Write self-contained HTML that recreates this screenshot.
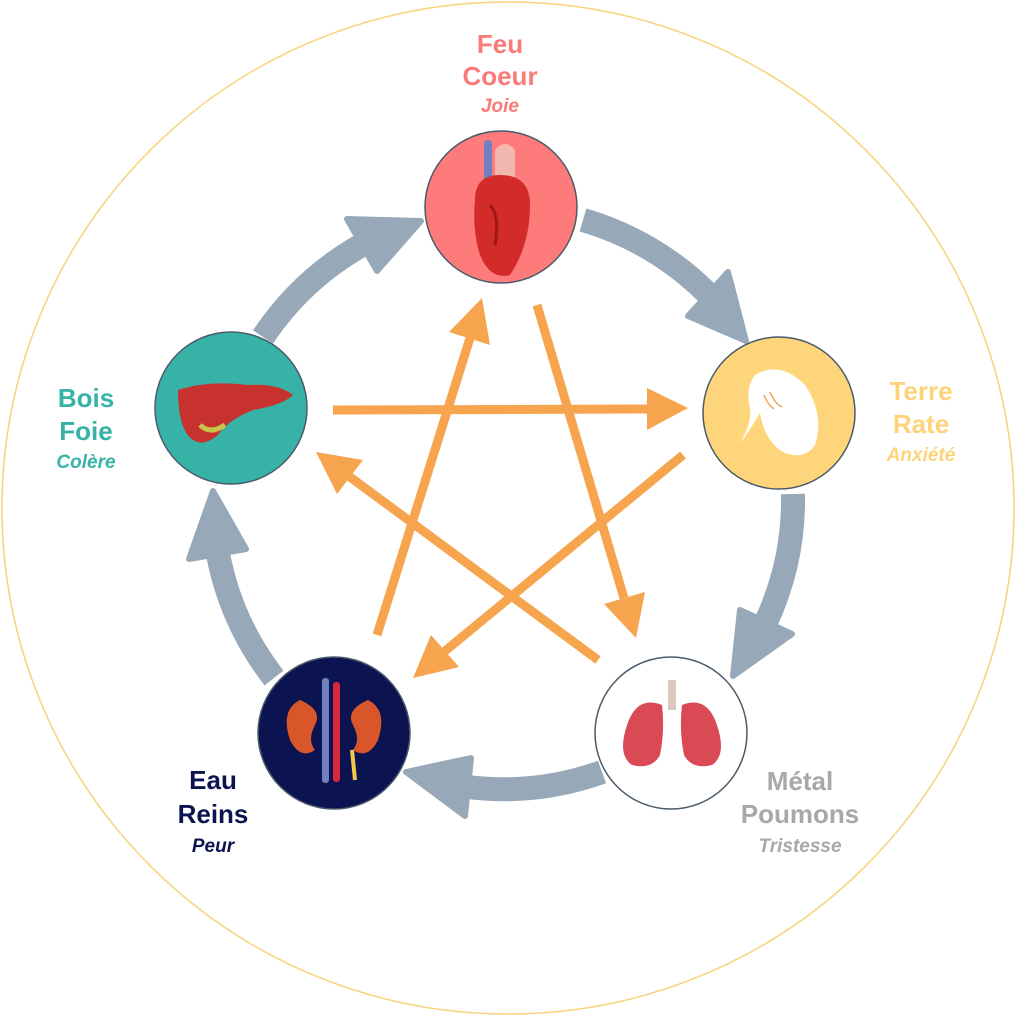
<!DOCTYPE html>
<html><head><meta charset="utf-8"><style>
html,body{margin:0;padding:0;background:#fff;}
svg{display:block;}
text{font-family:"Liberation Sans",sans-serif;font-weight:bold;text-anchor:middle;}
</style></head><body>
<svg width="1016" height="1016" viewBox="0 0 1016 1016" xmlns="http://www.w3.org/2000/svg">
<circle cx="508" cy="508" r="506" fill="#fff" stroke="#f6d37a" stroke-width="1.5"/>

<!-- gray arcs -->
<g fill="none" stroke="#97a8b8" stroke-width="24">
<path d="M583,220 A290,290 0 0 1 708,294"/>
<path d="M793,494 A290,290 0 0 1 766,622"/>
<path d="M602,772 A290,290 0 0 1 468,787"/>
<path d="M274,678 A290,290 0 0 1 218,554"/>
<path d="M263,337 A290,290 0 0 1 362,245"/>
</g>
<g fill="#97a8b8" stroke="#97a8b8" stroke-width="6" stroke-linejoin="round">
<polygon points="728,272 688,316 746,341"/>
<polygon points="792,634 740,610 733,676"/>
<polygon points="465,816 471,758 406,772"/>
<polygon points="189,559 246,549 213,491"/>
<polygon points="347,219 377,271 421,221"/>
</g>

<!-- orange arrows -->
<g stroke="#f7a44e" stroke-width="9" fill="none">
<line x1="333" y1="410" x2="650" y2="409"/>
<line x1="377" y1="635" x2="470" y2="338"/>
<line x1="537" y1="305" x2="624" y2="598"/>
<line x1="683" y1="455" x2="445" y2="651"/>
<line x1="598" y1="660" x2="350" y2="477"/>
</g>
<g fill="#f7a44e">
<polygon points="688,408 647,388 647,430"/>
<polygon points="482,298 490,345 449,332"/>
<polygon points="636,638 645,592 604,604"/>
<polygon points="413,678 459,667 431,635"/>
<polygon points="316,452 337,494 363,460"/>
</g>

<!-- nodes -->
<g stroke="#4a5a6a" stroke-width="1.5">
<circle cx="501" cy="207" r="76" fill="#fd7b7b"/>
<circle cx="779" cy="413" r="76" fill="#fed57a"/>
<circle cx="671" cy="733" r="76" fill="#fff"/>
<circle cx="334" cy="733" r="76" fill="#0b1450"/>
<circle cx="231" cy="408" r="76" fill="#36b3a6"/>
</g>

<!-- heart -->
<rect x="484" y="140" width="8" height="45" rx="4" fill="#6f7fc0"/>
<path d="M495,150 q10,-12 20,0 l0,30 l-20,0z" fill="#f2b8b0"/>
<path d="M475,200 q0,-25 25,-25 q30,0 30,30 q0,40 -20,70 q-20,5 -30,-20 q-8,-25 -5,-55z" fill="#d32a2a"/>
<path d="M490,205 q10,10 5,40" stroke="#a01818" stroke-width="3" fill="none"/>

<!-- spleen -->
<path d="M755,375 q25,-15 50,10 q20,30 10,60 q-10,15 -30,8 q-20,-10 -25,-40 q-15,25 -20,30 q12,-20 10,-35 q-5,-20 5,-33z" fill="#fff"/>
<path d="M764,395 q4,10 10,14 M770,392 q5,12 12,15" stroke="#f2a35a" stroke-width="1.5" fill="none"/>

<!-- lungs -->
<rect x="668" y="680" width="8" height="30" fill="#d8c8c0"/>
<path d="M662,705 q-25,-10 -35,20 q-10,30 5,40 q20,5 28,-10 q5,-25 2,-50z" fill="#d94a55"/>
<path d="M682,705 q25,-10 35,20 q10,30 -5,40 q-20,5 -28,-10 q-5,-25 -2,-50z" fill="#d94a55"/>

<!-- kidneys -->
<rect x="322" y="678" width="7" height="105" rx="3" fill="#6f7fc0"/>
<rect x="333" y="682" width="7" height="100" rx="3" fill="#d8283c"/>
<path d="M300,700 q-20,10 -10,40 q10,20 25,10 q-8,-10 0,-25 q8,-15 -15,-25z" fill="#d9552a"/>
<path d="M368,700 q20,10 10,40 q-10,20 -25,10 q8,-10 0,-25 q-8,-15 15,-25z" fill="#d9552a"/>
<path d="M352,750 l3,30" stroke="#f2c84a" stroke-width="4"/>

<!-- liver -->
<path d="M178,390 q30,-10 70,-5 q30,-2 45,10 q-10,10 -40,15 q-25,10 -35,25 q-15,12 -25,5 q-15,-10 -15,-50z" fill="#c8322e"/>
<path d="M200,425 q10,10 25,0" stroke="#c7c24a" stroke-width="5" fill="none"/>

<!-- labels -->
<g fill="#fa7a78"><text x="500" y="53" font-size="26">Feu</text><text x="500" y="85" font-size="26">Coeur</text><text x="500" y="112" font-size="19" font-style="italic">Joie</text></g>
<g fill="#fed37a"><text x="921" y="400" font-size="26">Terre</text><text x="921" y="433" font-size="26">Rate</text><text x="921" y="461" font-size="19" font-style="italic">Anxiété</text></g>
<g fill="#36b3a6"><text x="86" y="407" font-size="26">Bois</text><text x="86" y="440" font-size="26">Foie</text><text x="86" y="468" font-size="19" font-style="italic">Colère</text></g>
<g fill="#0b1450"><text x="213" y="789" font-size="26">Eau</text><text x="213" y="823" font-size="26">Reins</text><text x="213" y="852" font-size="19" font-style="italic">Peur</text></g>
<g fill="#a8a8a8"><text x="800" y="790" font-size="26">Métal</text><text x="800" y="823" font-size="26">Poumons</text><text x="800" y="852" font-size="19" font-style="italic">Tristesse</text></g>
</svg>
</body></html>
